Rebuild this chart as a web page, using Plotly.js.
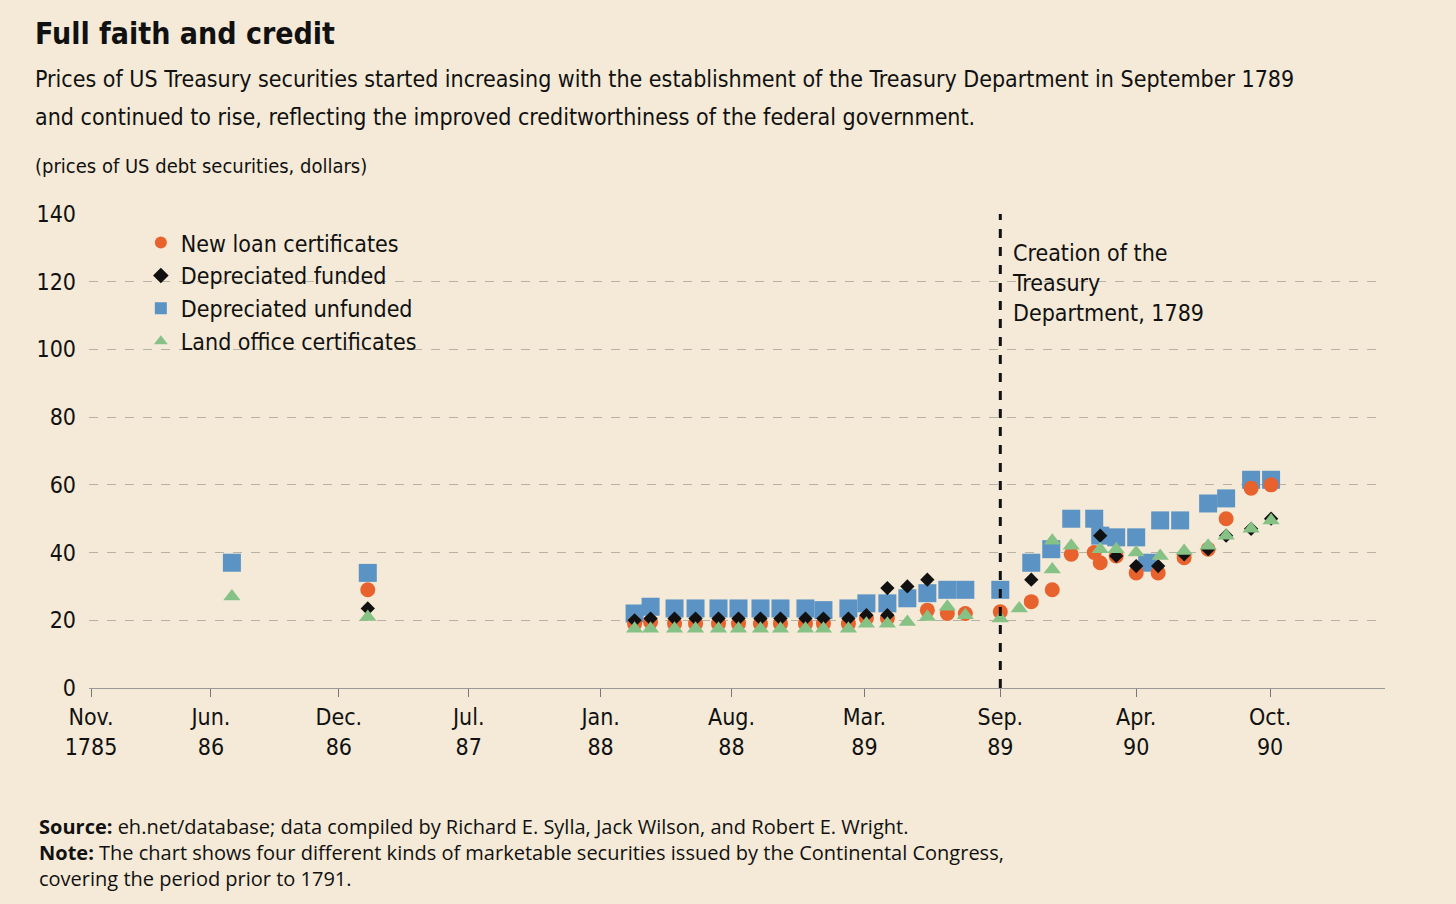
<!DOCTYPE html>
<html><head><meta charset="utf-8">
<script src="https://cdn.plot.ly/plotly-3.0.1.min.js"></script>
<style>body{margin:0;background:#f4ead7;}#c{width:1456px;height:904px;}</style>
</head><body><div id="c"></div>
<script>
const tickPos = [0, 6, 12.4, 18.9, 25.5, 32.05, 38.7, 45.5, 52.3, 59];
const tickText = ["Nov.<br>1785","Jun.<br>86","Dec.<br>86","Jul.<br>87","Jan.<br>88","Aug.<br>88","Mar.<br>89","Sep.<br>89","Apr.<br>90","Oct.<br>90"];

const blueX = [7.05,13.85,27.2,28,29.2,30.25,31.4,32.4,33.5,34.5,35.75,36.65,37.9,38.8,39.85,40.85,41.85,42.85,43.75,45.5,47.05,48.05,49.05,50.2,50.5,51.3,52.3,52.85,53.5,54.5,55.9,56.8,58.05,59.05];
const blueY = [37,34,22,24,23.5,23.5,23.5,23.5,23.5,23.5,23.5,23,23.5,25,25,26.5,28,29,29,29,37,41,50,50,45,44.5,44.5,37,49.5,49.5,54.5,56,61.5,61.5];
const orangeX = [13.85,27.2,28,29.2,30.25,31.4,32.4,33.5,34.5,35.75,36.65,37.9,38.8,39.85,41.85,42.85,43.75,45.5,47.05,48.1,49.05,50.2,50.5,51.3,52.3,53.4,54.7,55.9,56.8,58.05,59.05];
const orangeY = [29,19,19.5,19,19,19,19,19,19,19,19,19,20.5,20.5,23,22,22,22.5,25.5,29,39.5,40,37,39,34,34,38.5,41,50,59,60];
const blackX = [13.85,27.2,28,29.2,30.25,31.4,32.4,33.5,34.5,35.75,36.65,37.9,38.8,39.85,39.85,40.85,41.85,47.05,50.5,51.3,52.3,53.4,54.7,55.9,56.8,58.05,59.05];
const blackY = [23.5,20,20.5,20.5,20.5,20.5,20.5,20.5,20.5,20.5,20.5,20.5,21.5,21.5,29.5,30,32,32,45,39,36,36,39.5,41,45,47,50];
const greenX = [7.05,13.85,27.2,28,29.2,30.25,31.4,32.4,33.5,34.5,35.75,36.65,37.9,38.8,39.85,40.85,41.85,42.85,43.75,45.5,46.45,48.1,48.1,49.05,50.5,51.3,52.3,53.5,54.7,55.9,56.8,58.05,59.05];
const greenY = [27,21,17.5,17.5,17.5,17.5,17.5,17.5,17.5,17.5,17.5,17.5,17.5,19,19,19.5,21,24,21.5,20.5,23.5,35,43.5,42,41,41,40,39,40.5,42,45,47,49.5];

const F = '"Liberation Sans Narrow","DejaVu Sans Condensed","Open Sans",sans-serif';
const mk = (name,x,y,sym,col,size,rank)=>({type:'scatter',mode:'markers',name,x,y,legendrank:rank,
  marker:{symbol:sym,color:col,size:size,line:{width:0}},hoverinfo:'x+y'});
const data = [
  mk('Depreciated unfunded',blueX,blueY,'square','#5b93c4',18,3),
  mk('New loan certificates',orangeX,orangeY,'circle','#e8622d',15,1),
  mk('Depreciated funded',blackX,blackY,'diamond','#111111',11,2),
  mk('Land office certificates',greenX,greenY,'triangle-up','#86c186',15,4)
];
const ann = (x,y,text,size,extra)=>Object.assign({xref:'paper',yref:'paper',x,y,xanchor:'left',yanchor:'middle',align:'left',showarrow:false,text,font:{size,family:F}},extra||{});
const layout = {
  width:1456,height:904,paper_bgcolor:'#f4ead7',plot_bgcolor:'#f4ead7',
  margin:{l:89,r:71,t:214,b:216},
  font:{family:F,size:22,color:'#111'},
  showlegend:true,
  legend:{x:0.04,y:0.985,xanchor:'left',yanchor:'top',bgcolor:'rgba(0,0,0,0)',font:{size:23,family:F},itemsizing:'constant',tracegroupgap:0},
  xaxis:{range:[-0.1,64.75],tickvals:tickPos,ticktext:tickText,showgrid:false,zeroline:false,
    showline:true,linecolor:'#999',linewidth:1,ticks:'outside',ticklen:8,tickcolor:'#777',
    tickfont:{size:23,family:F}},
  yaxis:{range:[0,140],dtick:20,gridcolor:'#b8b2a6',griddash:'dash',gridwidth:1,zeroline:false,
    ticks:'',tickfont:{size:23,family:F},ticklabelstandoff:12},
  shapes:[{type:'line',xref:'x',yref:'paper',x0:45.5,x1:45.5,y0:0,y1:1,line:{color:'#111',width:3,dash:'dash'}}],
  annotations:[
    ann(-0.043,1.38,'<b>Full faith and credit</b>',30),
    ann(-0.043,1.285,'Prices of US Treasury securities started increasing with the establishment of the Treasury Department in September 1789',23),
    ann(-0.043,1.205,'and continued to rise, reflecting the improved creditworthiness of the federal government.',23),
    ann(-0.043,1.102,'(prices of US debt securities, dollars)',20),
    {xref:'x',yref:'y',x:46,y:133,xanchor:'left',yanchor:'top',align:'left',showarrow:false,
     text:'Creation of the<br>Treasury<br>Department, 1789',font:{size:23,family:F}},
    {xref:'paper',yref:'paper',x:-0.04,y:-0.26,xanchor:'left',yanchor:'top',align:'left',showarrow:false,
     text:'<b>Source:</b> eh.net/database; data compiled by Richard E. Sylla, Jack Wilson, and Robert E. Wright.<br><b>Note:</b> The chart shows four different kinds of marketable securities issued by the Continental Congress,<br>covering the period prior to 1791.',
     font:{size:20,family:'"Open Sans",sans-serif'}}
  ]
};
Plotly.newPlot('c',data,layout,{displayModeBar:false});
</script></body></html>
